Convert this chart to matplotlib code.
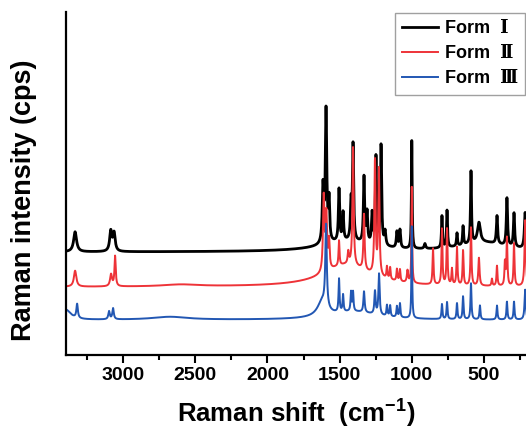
import numpy as np
import matplotlib
matplotlib.use("Agg")
import matplotlib.pyplot as plt
import matplotlib.ticker as ticker

plt.rcParams["mathtext.fontset"] = "custom"
plt.rcParams["mathtext.rm"] = "Liberation Sans"
plt.rcParams["mathtext.bf"] = "Liberation Sans:bold"

# peak tables: position (cm-1), height above baseline, half width
form1_pos = [3332, 3085, 3062, 1615, 1594, 1573, 1504, 1476, 1421, 1407, 1331, 1310, 1275,
             1248, 1213, 1185, 1103, 1082, 1000, 909, 791, 756, 687, 645, 590, 535,
             410, 341, 292, 215, 1450, 500]
form1_h = [20, 20, 18, 55, 133, 40, 52, 28, 36, 95, 66, 30, 30,
           88, 100, 14, 16, 18, 108, 5, 32, 37, 13, 19, 72, 20,
           28, 48, 34, 36, 10, 9]
form1_w = [12, 9, 9, 6, 6, 5, 5, 5, 5, 5, 5, 5, 5,
           5, 5, 6, 5, 5, 3, 6, 4, 4, 4, 4, 4, 12,
           5, 5, 5, 6, 220, 200]

form2_pos = [3332, 3083, 3055, 1610, 1592, 1573, 1504, 1440, 1407, 1331, 1255, 1228,
             1172, 1150, 1103, 1082, 1030, 1000, 853, 791, 756, 722, 687, 645, 590, 535,
             445, 410, 355, 341, 292, 215, 1450, 2600]
form2_h = [16, 12, 30, 75, 55, 28, 25, 12, 118, 56, 114, 106,
           12, 12, 12, 12, 12, 96, 36, 56, 56, 16, 38, 35, 58, 28,
           7, 20, 23, 48, 43, 66, 22, 2]
form2_w = [10, 8, 5, 6, 6, 5, 4, 5, 5, 5, 5, 5,
           4, 4, 4, 4, 5, 3, 4, 4, 4, 4, 4, 4, 4, 5,
           4, 4, 4, 4, 4, 5, 200, 150]

form3_pos = [3395, 3318, 3097, 3069, 2675, 1620, 1594, 1504, 1476, 1421, 1407, 1331,
             1255, 1227, 1172, 1150, 1103, 1082, 1000, 791, 756, 687, 645, 590,
             528, 410, 341, 292, 215, 1400]
form3_h = [10, 14, 8, 11, 3, 15, 82, 33, 17, 19, 19, 21,
           23, 41, 11, 11, 11, 14, 92, 15, 17, 16, 23, 36,
           14, 14, 18, 18, 30, 8]
form3_w = [40, 6, 6, 6, 150, 40, 6, 4, 4, 4, 4, 5,
           5, 5, 4, 4, 4, 4, 3, 4, 4, 4, 4, 4,
           4, 4, 4, 4, 5, 200]

names = ["Form  Ⅰ", "Form  Ⅱ", "Form  Ⅲ"]
baselines = [103, 68, 35]
colors = ["#000000", "#ee3338", "#2257b3"]
tables = [(form1_pos, form1_h, form1_w),
          (form2_pos, form2_h, form2_w),
          (form3_pos, form3_h, form3_w)]

shift = np.linspace(3395, 200, 3000)


def spectrum(pos, h, w, base):
    y = np.full_like(shift, float(base))
    for p, a, g in zip(pos, h, w):
        y += a * g**2 / ((shift - p)**2 + g**2)
    return y


fig = plt.figure(figsize=(5.26, 4.33), dpi=100)
ax = fig.add_axes([66 / 526, 1 - 355 / 433, 1 - 66 / 526, (355 - 12) / 433])

for i, name in enumerate(names):
    pos, h, w = tables[i]
    lw = 2.0 if i == 0 else 1.4
    ax.plot(shift, spectrum(pos, h, w, baselines[i]), color=colors[i], lw=lw, label=name)

ax.set_xlim(3395, 209)
ax.set_ylim(0, 343)
ax.spines["top"].set_visible(False)
ax.spines["right"].set_visible(False)
for s in ["left", "bottom"]:
    ax.spines[s].set_linewidth(1.6)
ax.set_yticks([])
ax.xaxis.set_major_locator(ticker.MultipleLocator(500))
ax.xaxis.set_minor_locator(ticker.MultipleLocator(250))
ax.tick_params(axis="x", which="major", direction="out", length=6, width=1.5, pad=3)
ax.tick_params(axis="x", which="minor", direction="out", length=3.5, width=1.5)
for lab in ax.get_xticklabels():
    lab.set_fontfamily("Liberation Sans")
    lab.set_fontweight("bold")
    lab.set_fontsize(14)

ax.set_xlabel("Raman shift  (cm$^{\\mathbf{-1}}$)", fontsize=18.5, fontweight="bold",
              family="Liberation Sans", labelpad=8)
ax.set_ylabel("Raman intensity (cps)", fontsize=19.5, fontweight="bold",
              family="Liberation Sans")
ax.yaxis.set_label_coords(-0.064, 0.452)

leg = fig.legend(loc="upper left", bbox_to_anchor=(395 / 526, 1 - 13 / 433), borderaxespad=0,
                 prop={"family": ["Liberation Sans", "DejaVu Serif"], "weight": "bold", "size": 13},
                 frameon=True, fancybox=False, edgecolor="#888888", handlelength=2.0,
                 labelspacing=0.45, borderpad=0.4, handletextpad=0.35)
leg.get_frame().set_linewidth(1.0)

fig.savefig("out.png", dpi=100)
